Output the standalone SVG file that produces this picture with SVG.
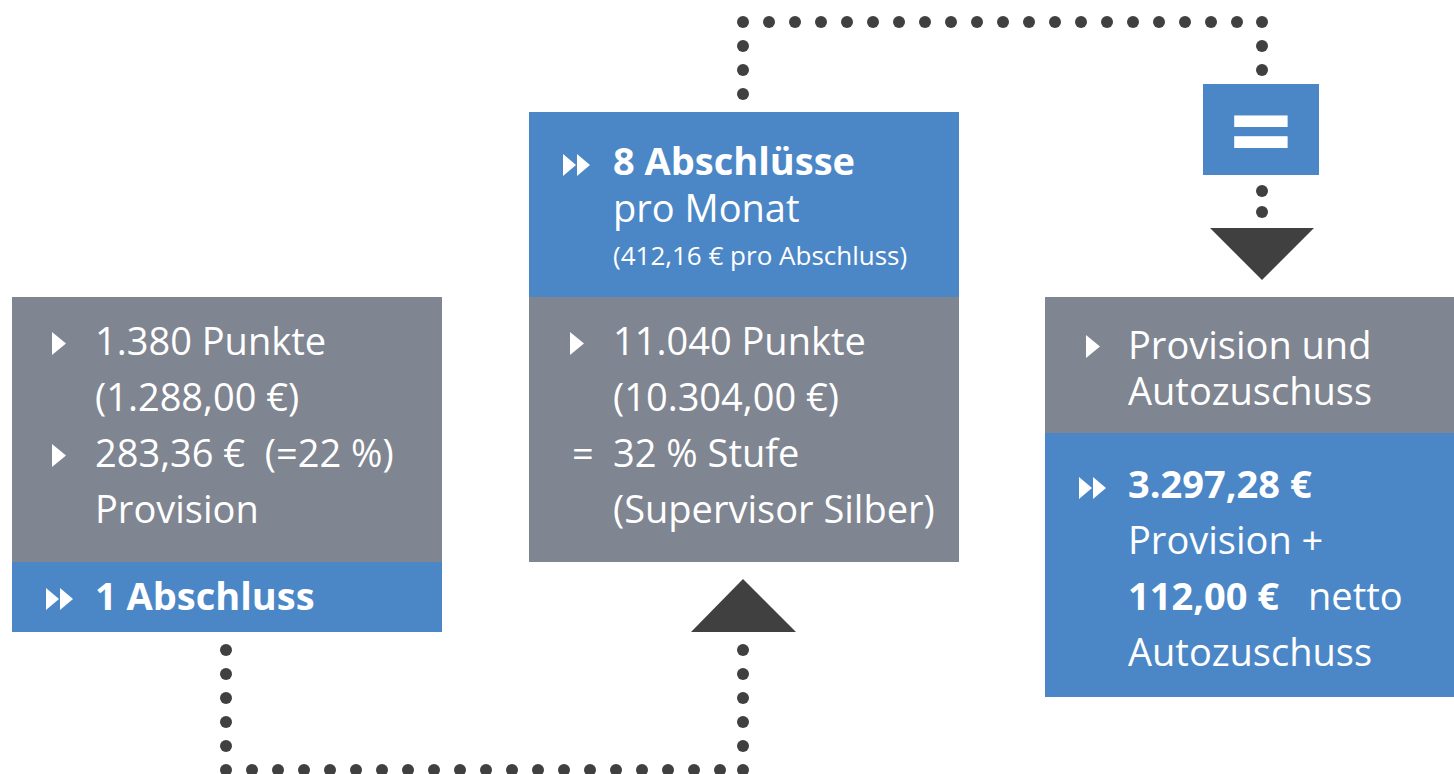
<svg xmlns="http://www.w3.org/2000/svg" xmlns:xlink="http://www.w3.org/1999/xlink" width="1454" height="774" viewBox="0 0 1454 774">
<defs>
<style>
.gray{fill:#7f8591}
.blue{fill:#4b87c6}
.t{font-family:"Open Sans","Noto Sans",sans-serif;font-size:38px;fill:#ffffff}
.b{font-weight:bold}
.s{font-size:26px}
.dot{fill:#404040}
.arr{fill:#404040}
.bul{fill:#ffffff}
</style>
<path id="tri" d="M0,-23 L14,-11.5 L0,0 Z"/>
<path id="dtri" d="M0,-22 L13,-11 L0,0 Z M14,-22 L27,-11 L14,0 Z"/>
<circle id="d" r="6"/>
</defs>
<rect width="1454" height="774" fill="#ffffff"/>

<g id="connectors">
<g class="dot" id="dots-bottom">
<use xlink:href="#d" x="226" y="650"/><use xlink:href="#d" x="226" y="674"/><use xlink:href="#d" x="226" y="698"/><use xlink:href="#d" x="226" y="722"/><use xlink:href="#d" x="226" y="746"/>
<use xlink:href="#d" x="226" y="770"/><use xlink:href="#d" x="252" y="770"/><use xlink:href="#d" x="278" y="770"/><use xlink:href="#d" x="304" y="770"/><use xlink:href="#d" x="330" y="770"/><use xlink:href="#d" x="356" y="770"/><use xlink:href="#d" x="382" y="770"/><use xlink:href="#d" x="408" y="770"/><use xlink:href="#d" x="434" y="770"/><use xlink:href="#d" x="460" y="770"/><use xlink:href="#d" x="486" y="770"/><use xlink:href="#d" x="512" y="770"/><use xlink:href="#d" x="538" y="770"/><use xlink:href="#d" x="564" y="770"/><use xlink:href="#d" x="590" y="770"/><use xlink:href="#d" x="616" y="770"/><use xlink:href="#d" x="642" y="770"/><use xlink:href="#d" x="668" y="770"/><use xlink:href="#d" x="694" y="770"/><use xlink:href="#d" x="720" y="770"/><use xlink:href="#d" x="743" y="770"/>
<use xlink:href="#d" x="743" y="746"/><use xlink:href="#d" x="743" y="722"/><use xlink:href="#d" x="743" y="698"/><use xlink:href="#d" x="743" y="674"/><use xlink:href="#d" x="743" y="650"/>
</g>
<polygon class="arr" points="691,632 743,579 796,632"/>
<g class="dot" id="dots-top">
<use xlink:href="#d" x="743" y="94"/><use xlink:href="#d" x="743" y="70"/><use xlink:href="#d" x="743" y="46"/>
<use xlink:href="#d" x="743" y="22"/><use xlink:href="#d" x="769" y="22"/><use xlink:href="#d" x="795" y="22"/><use xlink:href="#d" x="821" y="22"/><use xlink:href="#d" x="847" y="22"/><use xlink:href="#d" x="873" y="22"/><use xlink:href="#d" x="899" y="22"/><use xlink:href="#d" x="925" y="22"/><use xlink:href="#d" x="951" y="22"/><use xlink:href="#d" x="977" y="22"/><use xlink:href="#d" x="1003" y="22"/><use xlink:href="#d" x="1029" y="22"/><use xlink:href="#d" x="1055" y="22"/><use xlink:href="#d" x="1081" y="22"/><use xlink:href="#d" x="1107" y="22"/><use xlink:href="#d" x="1133" y="22"/><use xlink:href="#d" x="1159" y="22"/><use xlink:href="#d" x="1185" y="22"/><use xlink:href="#d" x="1211" y="22"/><use xlink:href="#d" x="1237" y="22"/><use xlink:href="#d" x="1262" y="22"/>
<use xlink:href="#d" x="1262" y="46"/><use xlink:href="#d" x="1262" y="70"/>
<use xlink:href="#d" x="1262" y="191"/><use xlink:href="#d" x="1262" y="212"/>
</g>
<polygon class="arr" points="1210,228 1314,228 1262,280"/>
</g>

<g id="node-equals">
<rect class="blue" x="1203" y="84" width="116" height="91"/>
<text class="t b" x="1261" y="170" text-anchor="middle" style="font-size:110px">=</text>
</g>

<g id="node-left">
<rect class="gray" x="12" y="297" width="430" height="265"/>
<rect class="blue" x="12" y="562" width="430" height="70"/>
<use xlink:href="#tri" class="bul" x="52" y="355"/>
<use xlink:href="#tri" class="bul" x="52" y="467"/>
<text class="t" x="95" y="355">1.380 Punkte</text>
<text class="t" x="95" y="411">(1.288,00 €)</text>
<text class="t" x="95" y="467" xml:space="preserve">283,36 €  (=22 %)</text>
<text class="t" x="95" y="523">Provision</text>
<use xlink:href="#dtri" class="bul" x="46" y="610"/>
<text class="t b" x="95" y="610">1 Abschluss</text>
</g>

<g id="node-middle">
<rect class="blue" x="529" y="112" width="430" height="185"/>
<rect class="gray" x="529" y="297" width="430" height="265"/>
<use xlink:href="#dtri" class="bul" x="563" y="176"/>
<text class="t b" x="613" y="175">8 Abschlüsse</text>
<text class="t" x="613" y="222">pro Monat</text>
<text class="t s" x="613" y="265">(412,16 € pro Abschluss)</text>
<use xlink:href="#tri" class="bul" x="570" y="355"/>
<text class="t" x="613" y="355">11.040 Punkte</text>
<text class="t" x="613" y="411">(10.304,00 €)</text>
<text class="t" x="572" y="467">=</text>
<text class="t" x="613" y="467">32 % Stufe</text>
<text class="t" x="613" y="523">(Supervisor Silber)</text>
</g>

<g id="node-right">
<rect class="gray" x="1045" y="297" width="409" height="136"/>
<rect class="blue" x="1045" y="433" width="409" height="264"/>
<use xlink:href="#tri" class="bul" x="1086" y="358"/>
<text class="t" x="1128" y="359">Provision und</text>
<text class="t" x="1128" y="405">Autozuschuss</text>
<use xlink:href="#dtri" class="bul" x="1079" y="499"/>
<text class="t b" x="1128" y="498">3.297,28 €</text>
<text class="t" x="1128" y="554">Provision +</text>
<text class="t" x="1128" y="610"><tspan class="b">112,00 €</tspan><tspan x="1308">netto</tspan></text>
<text class="t" x="1128" y="666">Autozuschuss</text>
</g>
</svg>
